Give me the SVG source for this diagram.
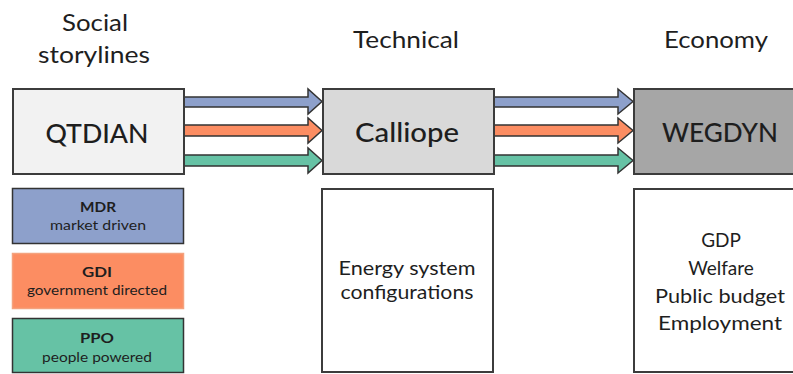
<svg xmlns="http://www.w3.org/2000/svg" width="793" height="374" viewBox="0 0 793 374">
<style>
text{font-family:Lato,"Open Sans","Liberation Sans",sans-serif;fill:#1e1e1e;text-anchor:middle}
.hdr{font-size:23px}
.big{font-size:27px;font-weight:500}
.sm{font-size:13px}
.smb{font-size:13px;font-weight:bold}
.info{font-size:19px}
.box{stroke:#3c3c3c;stroke-width:2}
.arr{stroke:#333;stroke-width:1.5;stroke-linejoin:miter}
.blue{fill:#8da0cb}
.orange{fill:#fc8d62}
.green{fill:#66c2a5}
</style>
<rect width="793" height="374" fill="#ffffff"/>
<g id="headers">
<text class="hdr" x="95" y="31" textLength="66" lengthAdjust="spacingAndGlyphs">Social</text>
<text class="hdr" x="94" y="63" textLength="112" lengthAdjust="spacingAndGlyphs">storylines</text>
<text class="hdr" x="406" y="48" textLength="106" lengthAdjust="spacingAndGlyphs">Technical</text>
<text class="hdr" x="716" y="48" textLength="104" lengthAdjust="spacingAndGlyphs">Economy</text>
</g>
<g id="connectors">
<polygon class="arr blue" points="184,97 308,97 308,89 322,101.5 308,114 308,107 184,107"/>
<polygon class="arr orange" points="184,125 308,125 308,118 322,130.5 308,143 308,136 184,136"/>
<polygon class="arr green" points="184,155 308,155 308,148 322,160.5 308,173 308,166 184,166"/>
<polygon class="arr blue" points="494,97 618,97 618,89 633,101.5 618,114 618,107 494,107"/>
<polygon class="arr orange" points="494,125 618,125 618,118 633,130.5 618,143 618,136 494,136"/>
<polygon class="arr green" points="494,155 618,155 618,148 633,160.5 618,173 618,166 494,166"/>
</g>
<g id="qtdian">
<rect class="box" x="13" y="89" width="171" height="85" fill="#f2f2f2"/>
<text class="big" x="97" y="143" textLength="103" lengthAdjust="spacingAndGlyphs">QTDIAN</text>
</g>
<g id="calliope">
<rect class="box" x="323" y="89" width="171" height="85" fill="#d9d9d9"/>
<text class="big" x="407" y="142" textLength="104" lengthAdjust="spacingAndGlyphs">Calliope</text>
</g>
<g id="wegdyn">
<rect class="box" x="634" y="89" width="170" height="85" fill="#a6a6a6"/>
<text class="big" x="720" y="142" textLength="116" lengthAdjust="spacingAndGlyphs">WEGDYN</text>
</g>
<g id="mdr">
<rect x="12.5" y="188.5" width="171" height="55" fill="#8da0cb" stroke="#333" stroke-width="1.5"/>
<text class="smb" x="98" y="212" textLength="36" lengthAdjust="spacingAndGlyphs">MDR</text>
<text class="sm" x="98" y="230" textLength="96" lengthAdjust="spacingAndGlyphs">market driven</text>
</g>
<g id="gdi">
<rect x="12.5" y="253.5" width="171" height="55" fill="#fc8d62" stroke="#f4a27e" stroke-width="1.5"/>
<text class="smb" x="97" y="277" textLength="30" lengthAdjust="spacingAndGlyphs">GDI</text>
<text class="sm" x="97" y="295" textLength="140" lengthAdjust="spacingAndGlyphs">government directed</text>
</g>
<g id="ppo">
<rect x="12.5" y="318.5" width="171" height="54" fill="#66c2a5" stroke="#333" stroke-width="1.5"/>
<text class="smb" x="97" y="343" textLength="34" lengthAdjust="spacingAndGlyphs">PPO</text>
<text class="sm" x="97" y="362" textLength="110" lengthAdjust="spacingAndGlyphs">people powered</text>
</g>
<g id="energy">
<rect class="box" x="322" y="189" width="171" height="183" fill="#ffffff"/>
<text class="info" x="407" y="275" textLength="137" lengthAdjust="spacingAndGlyphs">Energy system</text>
<text class="info" x="407" y="299" textLength="133" lengthAdjust="spacingAndGlyphs">configurations</text>
</g>
<g id="outputs">
<rect class="box" x="634" y="189" width="170" height="183" fill="#ffffff"/>
<text class="info" x="721" y="247">GDP</text>
<text class="info" x="721" y="275">Welfare</text>
<text class="info" x="720" y="303" textLength="130" lengthAdjust="spacingAndGlyphs">Public budget</text>
<text class="info" x="720" y="330" textLength="124" lengthAdjust="spacingAndGlyphs">Employment</text>
</g>
</svg>
